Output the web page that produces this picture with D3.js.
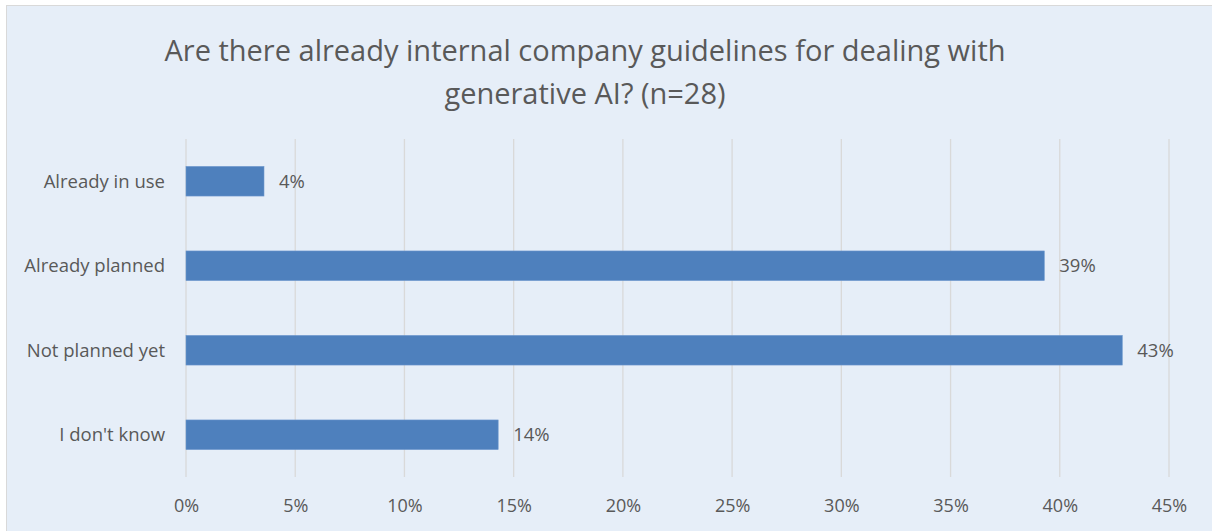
<!DOCTYPE html>
<html><head><meta charset="utf-8">
<script src="https://cdn.jsdelivr.net/npm/d3@7"></script>
<style>html,body{margin:0;padding:0;background:#fff;}svg{display:block;}</style>
</head><body>
<script>
const categories = ["Already in use", "Already planned", "Not planned yet", "I don't know"];
const values = [0.0357, 0.3929, 0.4286, 0.1429];
const valueLabels = ["4%", "39%", "43%", "14%"];
const tickValues = [0, 0.05, 0.10, 0.15, 0.20, 0.25, 0.30, 0.35, 0.40, 0.45];
const titleLines = ["Are there already internal company guidelines for dealing with", "generative AI? (n=28)"];

const W = 1212, H = 531;
const font = "'Open Sans', 'Noto Sans', sans-serif";
const textColor = "#595959";
const svg = d3.select("body").append("svg").attr("width", W).attr("height", H);

svg.append("rect").attr("x", 0).attr("y", 0).attr("width", W).attr("height", H).attr("fill", "#ffffff");
svg.append("rect").attr("x", 6.5).attr("y", 5.5).attr("width", W).attr("height", H).attr("fill", "#e6eef8").attr("stroke", "#d9d9d9").attr("stroke-width", 1);

const x = d3.scaleLinear().domain([0, 0.45]).range([186, 1169]);
const y = d3.scaleBand().domain(categories).range([139, 477]).paddingInner(0.65).paddingOuter(0.325);

// gridlines
svg.append("g").selectAll("line").data(tickValues).join("line")
  .attr("x1", d => x(d)).attr("x2", d => x(d))
  .attr("y1", 139).attr("y2", 477)
  .attr("stroke", "#d9d9d9").attr("stroke-width", 1.3);

// x axis labels
const xAxis = d3.axisBottom(x).tickValues(tickValues).tickFormat(d3.format(".0%")).tickSize(0).tickPadding(0);
const gx = svg.append("g").attr("transform", "translate(0,512)").call(xAxis);
gx.select(".domain").remove();
gx.selectAll("text").attr("dy", 0).attr("y", 0).attr("fill", textColor)
  .style("font-family", font).style("font-size", "18px");

// y axis labels
const yAxis = d3.axisLeft(y).tickSize(0).tickPadding(0);
const gy = svg.append("g").attr("transform", "translate(165,0)").call(yAxis);
gy.select(".domain").remove();
gy.selectAll("text").attr("fill", textColor).attr("dy", "0.35em")
  .style("font-family", font).style("font-size", "18.5px");

// bars
svg.append("g").selectAll("rect").data(values).join("rect")
  .attr("x", x(0)).attr("y", (d, i) => y(categories[i]))
  .attr("width", d => x(d) - x(0)).attr("height", y.bandwidth())
  .attr("fill", "#4e80bd").attr("stroke", "#6a96cc").attr("stroke-width", 0.6);

// value labels
svg.append("g").selectAll("text").data(values).join("text")
  .attr("x", d => x(d) + 15).attr("y", (d, i) => y(categories[i]) + y.bandwidth() / 2)
  .attr("dy", "0.35em").attr("fill", textColor)
  .style("font-family", font).style("font-size", "18.5px")
  .text((d, i) => valueLabels[i]);

// title
svg.append("g").selectAll("text").data(titleLines).join("text")
  .attr("x", 585).attr("y", (d, i) => 61 + i * 43)
  .attr("text-anchor", "middle").attr("fill", textColor)
  .style("font-family", font).style("font-size", "29px")
  .text(d => d);
</script>
</body></html>
